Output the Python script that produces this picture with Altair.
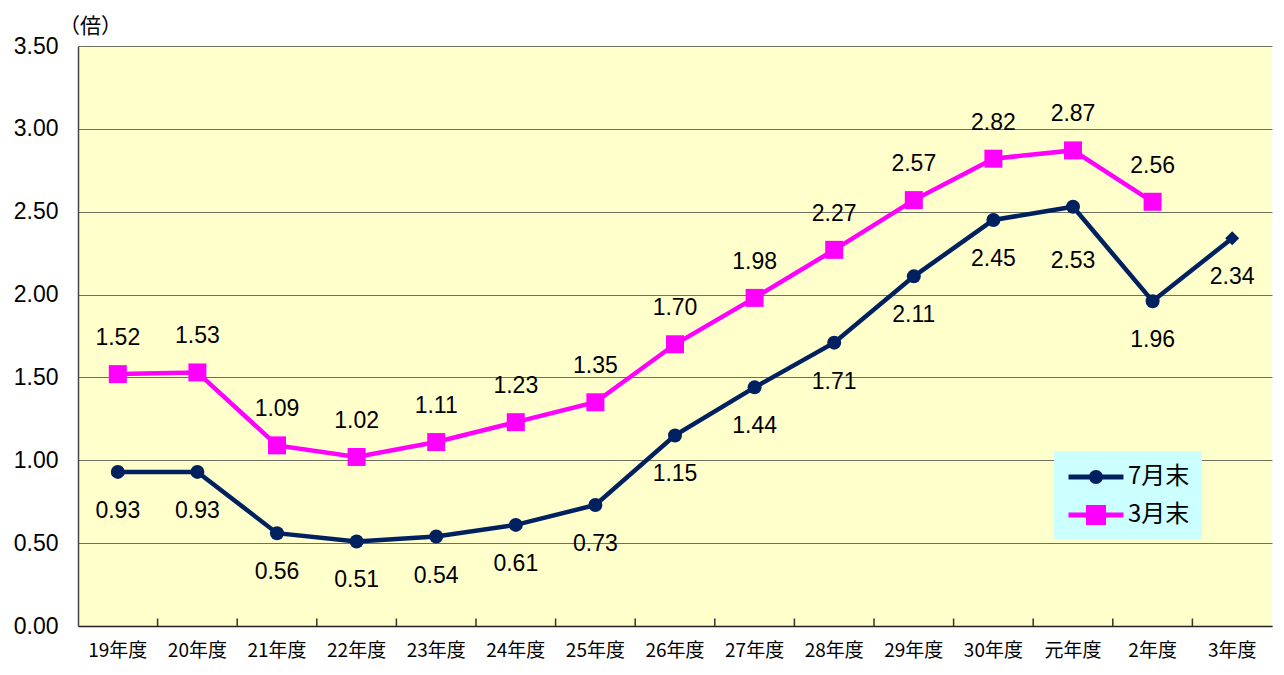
import altair as alt
import pandas as pd

categories = ["19年度", "20年度", "21年度", "22年度", "23年度", "24年度", "25年度",
              "26年度", "27年度", "28年度", "29年度", "30年度", "元年度", "2年度", "3年度"]
july_values = [0.93, 0.93, 0.56, 0.51, 0.54, 0.61, 0.73, 1.15, 1.44, 1.71, 2.11, 2.45, 2.53, 1.96, 2.34]
march_values = [1.52, 1.53, 1.09, 1.02, 1.11, 1.23, 1.35, 1.70, 1.98, 2.27, 2.57, 2.82, 2.87, 2.56, None]
series_names = ["7月末", "3月末"]
y_ticks = [0, 0.5, 1.0, 1.5, 2.0, 2.5, 3.0, 3.5]

NAVY = "#002060"
MAGENTA = "#FF00FF"
JP_FONT = "Noto Sans CJK JP"
NUM_FONT = "Liberation Sans"

july_df = pd.DataFrame({"cat": categories, "value": july_values, "series": "7月末"})
march_df = pd.DataFrame({"cat": categories, "value": march_values, "series": "3月末"}).dropna()
tick_df = pd.DataFrame({"cat": categories[1:], "lo": 0.0, "hi": 0.045})
legend_df = pd.DataFrame({"series": series_names})

xscale = alt.Scale(type="band", domain=categories, paddingInner=0, paddingOuter=0)
yscale = alt.Scale(domain=[0, 3.5])

x_axis = alt.Axis(title=None, ticks=False, labelFont=JP_FONT, labelFontSize=19,
                  labelColor="black", labelPadding=24, domainColor="#222222",
                  domainWidth=1.5, labelAngle=0, labelAlign="center",
                  labelBaseline="middle", bandPosition=0.5)
y_axis = alt.Axis(values=y_ticks, format=".2f", title="（倍）", titleAngle=0,
                  titleX=12, titleY=-20, titleAlign="center", titleBaseline="middle",
                  titleFont=JP_FONT, titleFontSize=21, titleFontWeight="normal",
                  titleColor="black", labelFont=NUM_FONT, labelFontSize=23,
                  labelColor="black", labelPadding=20, ticks=False,
                  domainColor="#444444", domainWidth=1.5,
                  grid=True, gridColor="#6f6f60", gridWidth=1)
x_enc = alt.X("cat:N", scale=xscale, sort=categories, axis=x_axis)
y_enc = alt.Y("value:Q", scale=yscale, axis=y_axis)

july_line = alt.Chart(july_df).mark_line(color=NAVY, strokeWidth=4.5).encode(x=x_enc, y=y_enc)
march_line = alt.Chart(march_df).mark_line(color=MAGENTA, strokeWidth=4.5).encode(x=x_enc, y=y_enc)

july_pts = alt.Chart(july_df).transform_filter("datum.cat !== '3年度'").mark_point(
    filled=True, color=NAVY, opacity=1, size=196, shape="circle").encode(x=x_enc, y=y_enc)
july_last = alt.Chart(july_df).transform_filter("datum.cat === '3年度'").mark_point(
    filled=True, color=NAVY, opacity=1, size=196, shape="diamond").encode(x=x_enc, y=y_enc)
march_pts = alt.Chart(march_df).mark_point(filled=True, color=MAGENTA, opacity=1,
                                           size=324, shape="square").encode(x=x_enc, y=y_enc)

ticks = alt.Chart(tick_df).mark_rule(color="#333333", strokeWidth=1.5).encode(
    x=alt.X("cat:N", scale=xscale, sort=categories, bandPosition=0, axis=x_axis),
    y=alt.Y("lo:Q", scale=yscale, axis=y_axis),
    y2="hi:Q")

july_text = alt.Chart(july_df).transform_filter("datum.cat !== '元年度'").mark_text(
    dy=39, font=NUM_FONT, fontSize=23, color="black").encode(
    x=x_enc, y=y_enc, text=alt.Text("value:Q", format=".2f"))
july_text2 = alt.Chart(july_df).transform_filter("datum.cat === '元年度'").mark_text(
    dy=54, font=NUM_FONT, fontSize=23, color="black").encode(
    x=x_enc, y=y_enc, text=alt.Text("value:Q", format=".2f"))
march_text = alt.Chart(march_df).mark_text(
    dy=-36, font=NUM_FONT, fontSize=23, color="black").encode(
    x=x_enc, y=y_enc, text=alt.Text("value:Q", format=".2f"))

path7 = "M-2,-0.18H2V0.18H-2Z M-0.51,0A0.51,0.51 0 1,1 0.51,0A0.51,0.51 0 1,1 -0.51,0Z"
path3 = "M-2,-0.18H2V0.18H-2Z M-0.73,-0.73H0.73V0.73H-0.73Z"
leg = alt.Legend(title=None, orient="none", legendX=976, legendY=405, fillColor="#CCFFFF",
                 padding=12, symbolSize=756, symbolOffset=16, labelOffset=18,
                 labelFont=JP_FONT, labelFontSize=24, labelColor="black",
                 symbolStrokeWidth=0, symbolOpacity=1, rowPadding=12)
legend_layer = alt.Chart(legend_df).mark_point(filled=True, opacity=0).encode(
    x=alt.X("series:N", axis=None),
    y=alt.datum(0),
    color=alt.Color("series:N", scale=alt.Scale(domain=series_names, range=[NAVY, MAGENTA]),
                    legend=leg),
    shape=alt.Shape("series:N", scale=alt.Scale(domain=series_names, range=[path7, path3]),
                    legend=leg))

main = alt.layer(
    ticks, july_line, march_line, july_pts, july_last, march_pts, july_text, july_text2,
    march_text
)

chart = alt.layer(main, legend_layer).resolve_scale(x="independent").resolve_axis(
    x="independent"
).properties(
    width=1194, height=580,
    autosize=alt.AutoSizeParams(type="none"),
    padding={"left": 70, "top": 38, "right": 2, "bottom": 40},
    background="white",
).configure_view(
    fill="#FFFFCC", stroke=None
)

chart.save("out.html", embed_options={"renderer": "svg", "actions": False})
